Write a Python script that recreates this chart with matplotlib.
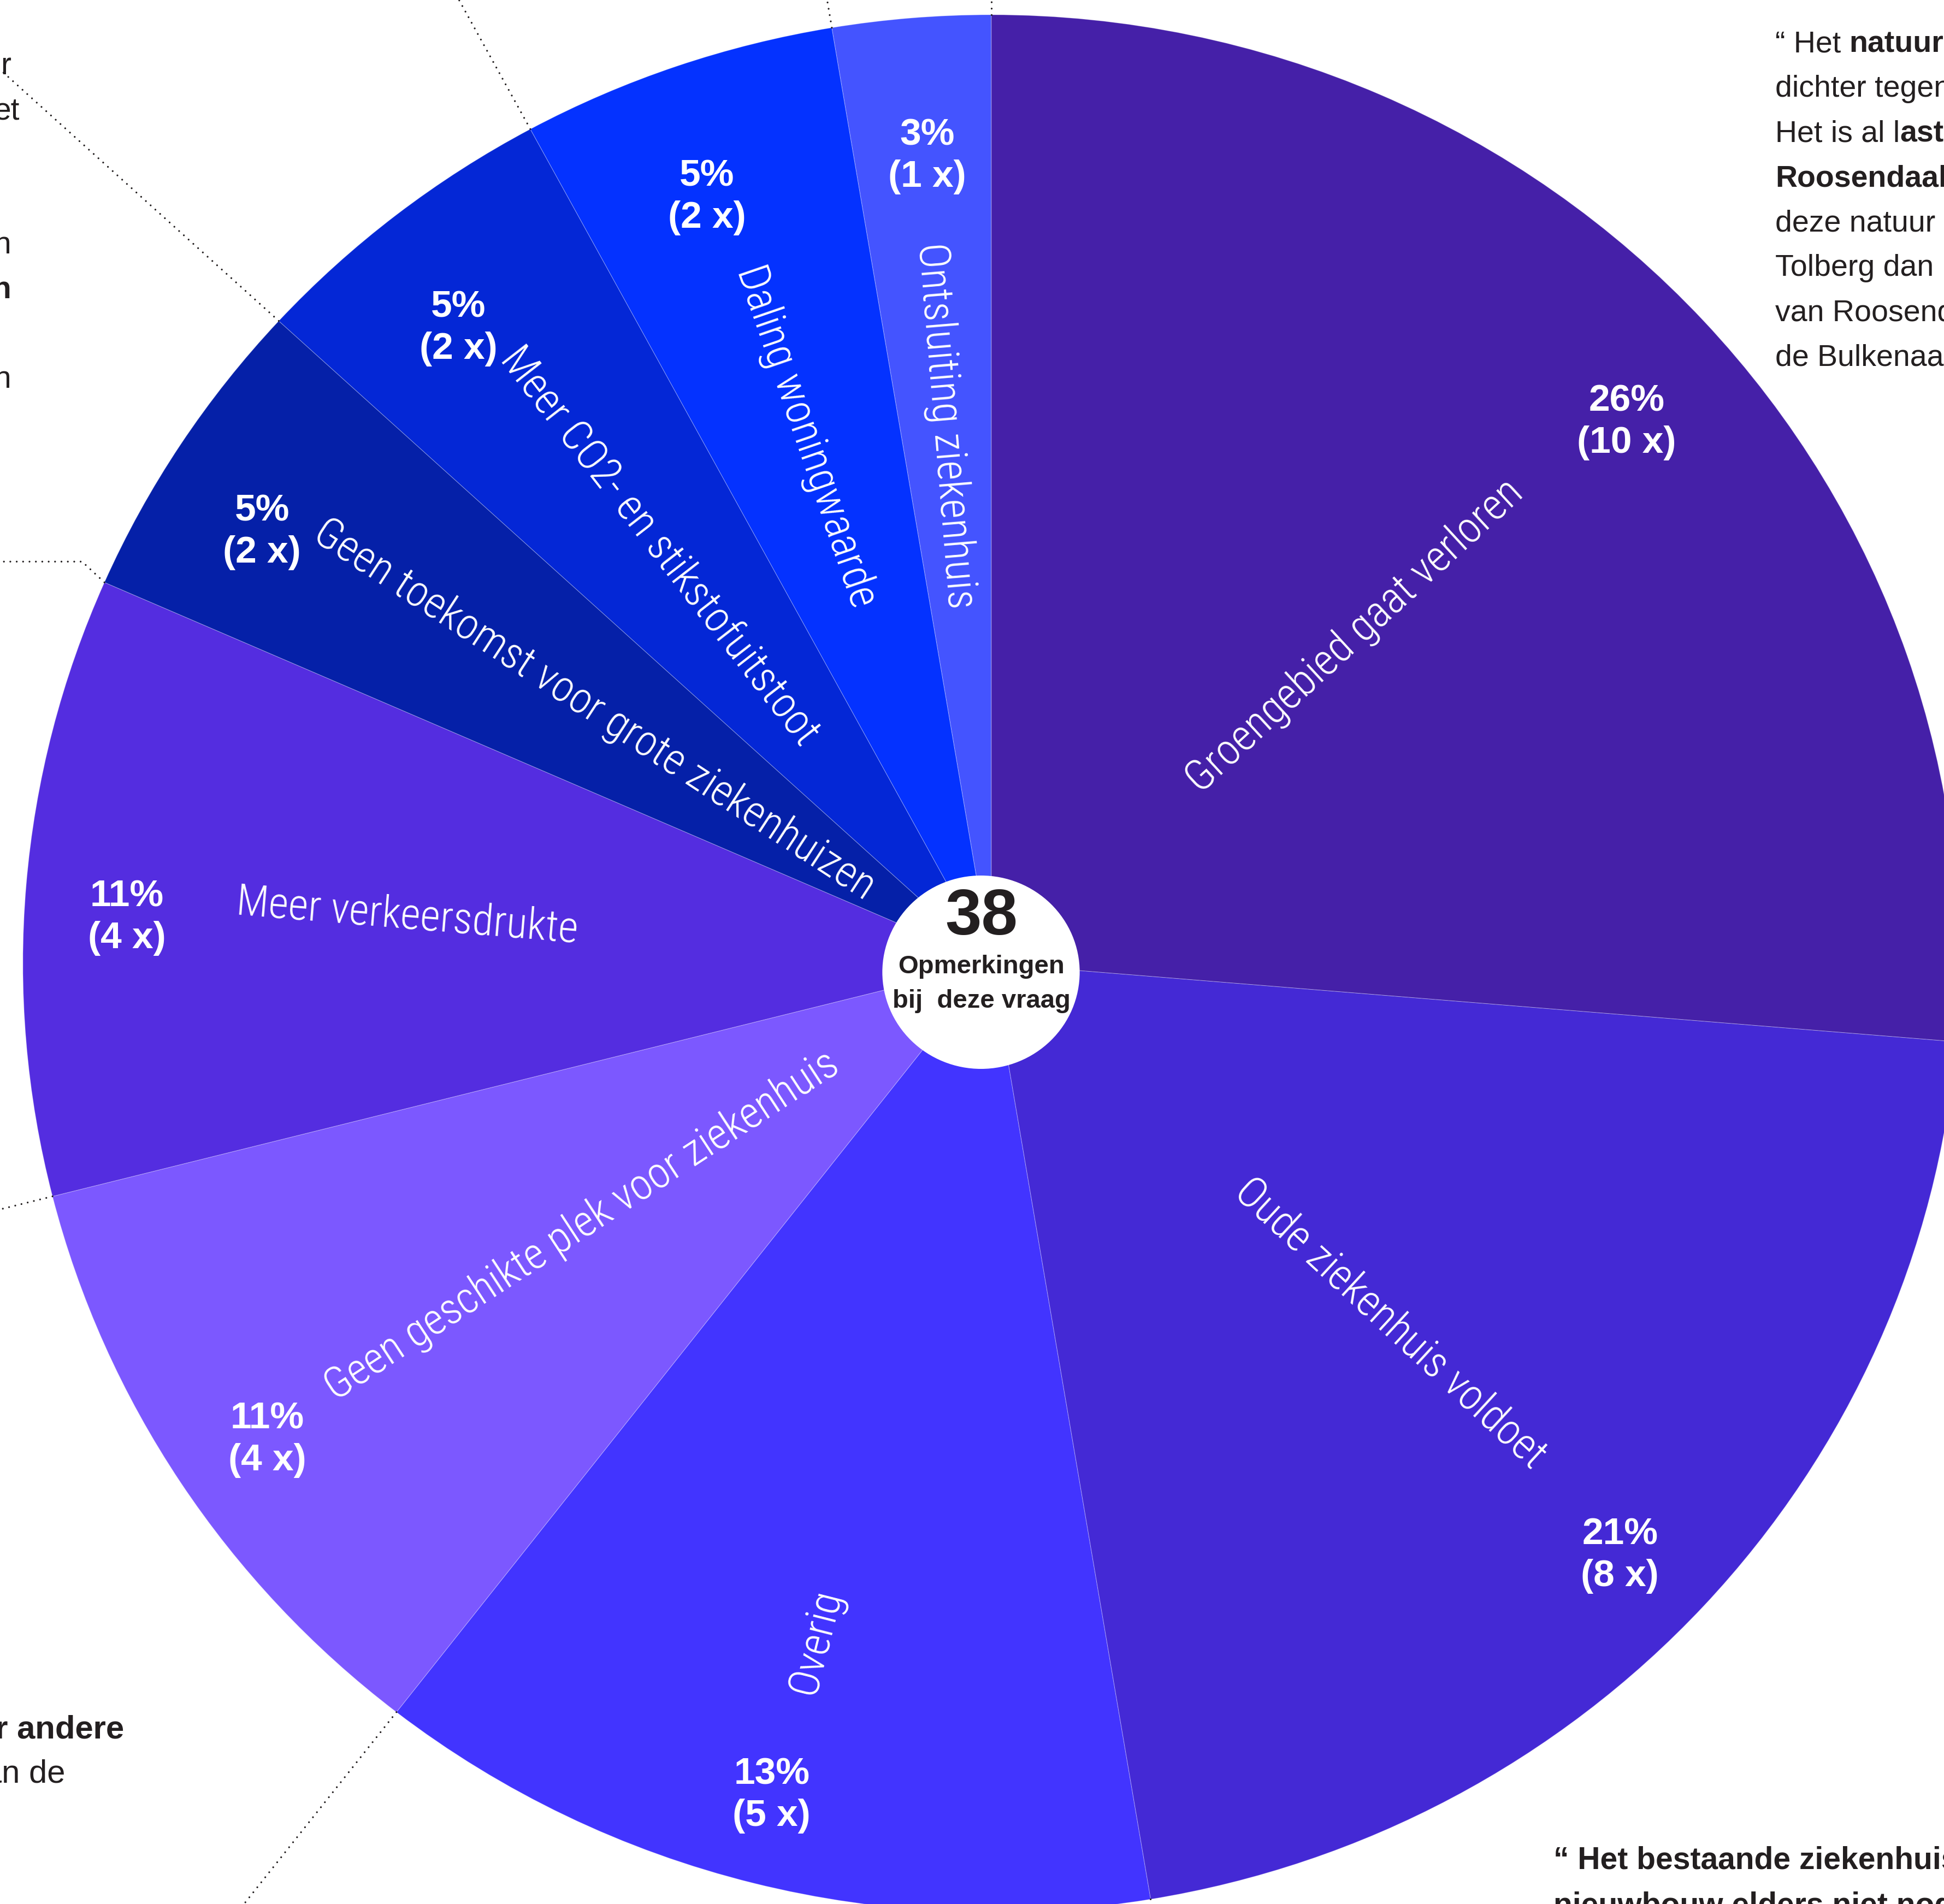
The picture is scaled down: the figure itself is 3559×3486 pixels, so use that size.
import numpy as np
import matplotlib.pyplot as plt
from matplotlib import font_manager
from matplotlib.patches import Circle

# Opmerkingen bij deze vraag (38 in totaal)
categorieen = ['Groengebied gaat verloren', 'Oude ziekenhuis voldoet', 'Overig',
               'Geen geschikte plek voor ziekenhuis', 'Meer verkeersdrukte',
               'Geen toekomst voor grote ziekenhuizen', 'Meer CO2- en stikstofuitstoot',
               'Daling woningwaarde', 'Ontsluiting ziekenhuis']
aantallen = [10, 8, 5, 4, 4, 2, 2, 2, 1]
kleuren = ['#4520A8', '#4429D5', '#4234FF', '#7C58FF', '#542DE0',
           '#0520A8', '#0427D6', '#0432FF', '#4454FF']
totaal = sum(aantallen)

# plaats van de teksten: fractie van de straal en hoekverschuiving (graden)
pct_r = [0.87, 0.90, 0.905, 0.90, 0.894, 0.88, 0.867, 0.86, 0.854]
pct_dhoek = [-1.6, -1.2, -0.3, 0.7, 1.6, 2.0, 1.5, 1.0, -0.3]
naam_r = [0.51, 0.56, 0.737, 0.505, 0.605, 0.49, 0.558, 0.588, 0.569]

W, H = 3559, 3487
DONKER = '#231F20'

namen = {f.name for f in font_manager.fontManager.ttflist}
smal = 'Liberation Sans Narrow' in namen
if 'Roboto Condensed' in namen:
    naam_fam, naam_size = ['Roboto Condensed', 'DejaVu Sans'], 57
else:
    naam_fam, naam_size = ['Roboto', 'DejaVu Sans'], 50


def px(x, y):
    # pixelpositie in het origineel -> data (het beeld is iets breed getrokken)
    return x * H / W, H - y


fig = plt.figure(figsize=(W / 100, H / 100), dpi=100)
ax = fig.add_axes([0, 0, 1, 1])

cx, cy, R = 1778, 1722, 1737
wedges, _ = ax.pie(aantallen, colors=kleuren, startangle=90, counterclock=False,
                   radius=R, center=(cx, cy),
                   wedgeprops=dict(edgecolor=(1, 1, 1, 0.3), linewidth=0.8))
ax.set_aspect('auto')
ax.set_xlim(0, H)
ax.set_ylim(0, H)
ax.axis('off')

# labels in de taartpunten
for w, naam, n, rp, dh, rn in zip(wedges, categorieen, aantallen, pct_r, pct_dhoek, naam_r):
    mid = np.deg2rad((w.theta1 + w.theta2) / 2)
    rot = np.degrees(mid)
    if np.cos(mid) < 0:
        rot -= 180
    ax.text(cx + rn * R * np.cos(mid), cy + rn * R * np.sin(mid), naam,
            rotation=rot, rotation_mode='anchor', ha='center', va='center',
            color='white', fontsize=naam_size, family=naam_fam, weight='light')
    hp = mid + np.deg2rad(dh)
    ax.text(cx + rp * R * np.cos(hp), cy + rp * R * np.sin(hp),
            f'{round(100 * n / totaal)}%\n({n} x)', ha='center', va='center',
            multialignment='center', linespacing=1.25, color='white', fontsize=50,
            family=['Liberation Sans', 'DejaVu Sans'], weight='bold')

# wit gat in het midden
hx, hy = px(1796, 1781)
ax.add_patch(Circle((hx, hy), 177, facecolor='white', edgecolor='none', zorder=4))
ax.text(*px(1797, 1680), str(totaal), ha='center', va='center', fontsize=86,
        weight='bold', color=DONKER, family=['Liberation Sans', 'DejaVu Sans'], zorder=5)
ax.text(*px(1797, 1770), 'Opmerkingen', ha='center', va='center', fontsize=34,
        weight='bold', color=DONKER, family=['Liberation Sans', 'DejaVu Sans'], zorder=5)
ax.text(*px(1797, 1833), 'bij  deze vraag', ha='center', va='center', fontsize=34,
        weight='bold', color=DONKER, family=['Liberation Sans', 'DejaVu Sans'], zorder=5)

# gestippelde verwijslijnen vanaf de grenzen tussen de taartpunten
stip = dict(color=DONKER, lw=2.4, linestyle=(0, (0.01, 3.5)),
            dash_capstyle='round', zorder=3)
for i in [0, 2, 3, 4, 6, 7, 8]:
    t = np.deg2rad(wedges[i].theta2)
    ax.plot([cx + R * np.cos(t), cx + 1.6 * R * np.cos(t)],
            [cy + R * np.sin(t), cy + 1.6 * R * np.sin(t)], **stip)
t = np.deg2rad(wedges[5].theta2)
x0, y0 = cx + R * np.cos(t), cy + R * np.sin(t)
ax.plot([x0, x0 - 40, -50], [y0, y0 + 38, y0 + 38], **stip)

# citaten rondom (afgesneden door de rand van het beeld)
citaat_fam = ['Liberation Sans', 'DejaVu Sans']


def regel(x, y, stukken, size, fam, ha='left'):
    vorige = None
    for tekst, vet in stukken:
        kw = dict(fontsize=size, family=fam, color=DONKER,
                  weight='bold' if vet else 'normal')
        if vorige is None:
            vorige = ax.text(x, y, tekst, ha=ha, va='baseline', **kw)
        else:
            vorige = ax.annotate(tekst, xy=(1, 0), xycoords=vorige,
                                 ha='left', va='bottom', **kw)


rechtsboven = [
    [('“ Het ', False), ('natuurgebied', True)],
    [('dichter tegen', False)],
    [('Het is al l', False), ('ast', True)],
    [('Roosendaal', True)],
    [('deze natuur', False)],
    [('Tolberg dan n', False)],
    [('van Roosendaal', False)],
    [('de Bulkenaar', False)],
]
for k, stukken in enumerate(rechtsboven):
    regel(*px(3250, 95 + 82 * k), stukken, 40, citaat_fam)

linksboven = [(20, 136, 'r', False), (36, 218, 'et', False), (20, 464, 'n', False),
              (20, 546, 'n', True), (20, 710, 'n', False)]
for x, y, tekst, vet in linksboven:
    regel(*px(x, y), [(tekst, vet)], 41, citaat_fam, ha='right')

regel(*px(227, 3183), [('voor andere', True)], 43, citaat_fam, ha='right')
regel(*px(120, 3264), [('van de', False)], 43, citaat_fam, ha='right')

if smal:
    fam_rb, size_rb = ['Liberation Sans Narrow', 'DejaVu Sans'], 50
else:
    fam_rb, size_rb = citaat_fam, 41
regel(*px(2844, 3422), [('“ Het bestaande ziekenhuis', True)], size_rb, fam_rb)
regel(*px(2844, 3505), [('nieuwbouw elders niet nodig', True)], size_rb, fam_rb)

fig.savefig('out.png', dpi=100, facecolor='white')
